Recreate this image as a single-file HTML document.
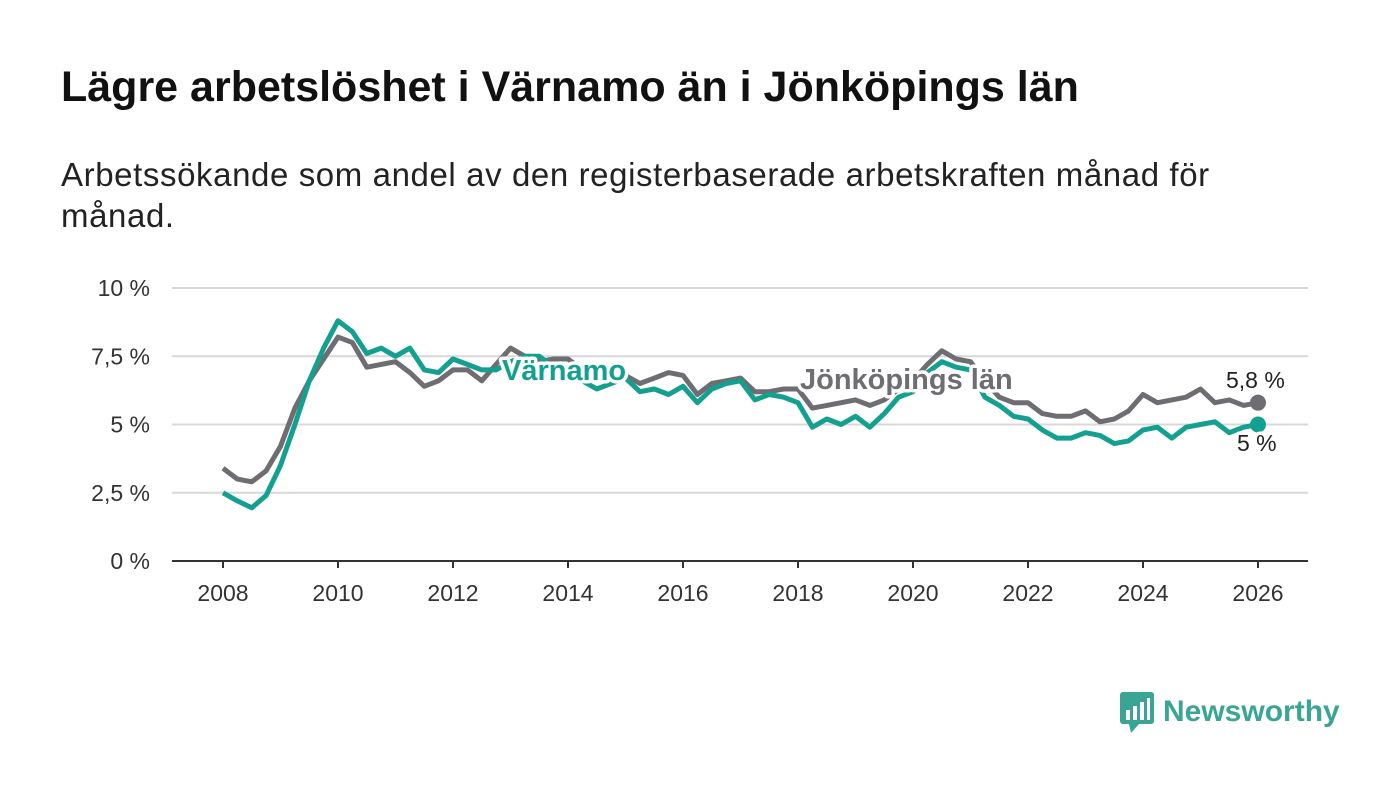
<!DOCTYPE html>
<html><head><meta charset="utf-8"><style>
body{margin:0;width:1400px;height:794px;background:#fff;font-family:"Liberation Sans","DejaVu Sans",sans-serif;overflow:hidden}
h1{position:absolute;left:61px;top:63px;margin:0;font-size:43px;font-weight:bold;color:#111;white-space:nowrap}
p.sub{position:absolute;left:61px;top:154px;margin:0;font-size:33px;line-height:41px;color:#222;width:1210px;letter-spacing:0.6px}
</style></head><body>
<h1>Lägre arbetslöshet i Värnamo än i Jönköpings län</h1>
<p class="sub">Arbetssökande som andel av den registerbaserade arbetskraften månad för månad.</p>
<svg id="c" width="1400" height="794" style="position:absolute;left:0;top:0"></svg>
<div style="position:absolute;left:1119px;top:690px;display:flex;align-items:center">
<svg width="36" height="44"><rect x="1" y="2" width="34" height="32" rx="3" fill="#3aa595"/><polygon points="10,34 20,34 12,43" fill="#3aa595"/><rect x="7" y="20" width="4" height="10" fill="#fff"/><rect x="14" y="16" width="4" height="14" fill="#fff"/><rect x="21" y="12" width="4" height="18" fill="#fff"/><rect x="28" y="8" width="3" height="22" fill="#fff"/></svg>
<span style="font-size:30px;font-weight:bold;color:#3aa595;margin-left:8px">Newsworthy</span></div>
<script>
const years=[2008,2008.25,2008.5,2008.75,2009,2009.25,2009.5,2009.75,2010,2010.25,2010.5,2010.75,2011,2011.25,2011.5,2011.75,2012,2012.25,2012.5,2012.75,2013,2013.25,2013.5,2013.75,2014,2014.25,2014.5,2014.75,2015,2015.25,2015.5,2015.75,2016,2016.25,2016.5,2016.75,2017,2017.25,2017.5,2017.75,2018,2018.25,2018.5,2018.75,2019,2019.25,2019.5,2019.75,2020,2020.25,2020.5,2020.75,2021,2021.25,2021.5,2021.75,2022,2022.25,2022.5,2022.75,2023,2023.25,2023.5,2023.75,2024,2024.25,2024.5,2024.75,2025,2025.25,2025.5,2025.75,2026];
const jonkoping=[3.4,3.0,2.9,3.3,4.2,5.6,6.6,7.4,8.2,8.0,7.1,7.2,7.3,6.9,6.4,6.6,7.0,7.0,6.6,7.2,7.8,7.5,7.3,7.4,7.4,7.0,6.8,6.8,6.8,6.5,6.7,6.9,6.8,6.1,6.5,6.6,6.7,6.2,6.2,6.3,6.3,5.6,5.7,5.8,5.9,5.7,5.9,6.3,6.6,7.2,7.7,7.4,7.3,6.6,6.0,5.8,5.8,5.4,5.3,5.3,5.5,5.1,5.2,5.5,6.1,5.8,5.9,6.0,6.3,5.8,5.9,5.7,5.8];
const varnamo=[2.5,2.2,1.95,2.4,3.5,5.0,6.6,7.8,8.8,8.4,7.6,7.8,7.5,7.8,7.0,6.9,7.4,7.2,7.0,7.0,7.3,7.5,7.5,7.1,6.8,6.6,6.3,6.5,6.7,6.2,6.3,6.1,6.4,5.8,6.3,6.5,6.6,5.9,6.1,6.0,5.8,4.9,5.2,5.0,5.3,4.9,5.4,6.0,6.2,6.9,7.3,7.1,7.0,6.0,5.7,5.3,5.2,4.8,4.5,4.5,4.7,4.6,4.3,4.4,4.8,4.9,4.5,4.9,5.0,5.1,4.7,4.9,5.0];
const yTicks=[0,2.5,5,7.5,10];
const yTickLabels=["0 %","2,5 %","5 %","7,5 %","10 %"];
const xTicks=[2008,2010,2012,2014,2016,2018,2020,2022,2024,2026];
const NS="http://www.w3.org/2000/svg",svg=document.getElementById('c');
const X=v=>223+(v-2008)*(1258-223)/18, Y=v=>561-v*27.3;
function mk(t,a,p){const e=document.createElementNS(NS,t);for(const k in a)e.setAttribute(k,a[k]);(p||svg).appendChild(e);return e;}
yTicks.forEach((t,i)=>{
 const l=mk('line',{x1:172,x2:1308,y1:Y(t),y2:Y(t),stroke:t===0?'#333':'#d8d8d8','stroke-width':2});
 
 
 const tx=mk('text',{x:150,y:Y(t)+8,'text-anchor':'end','font-size':23,fill:'#333'});
 tx.textContent=yTickLabels[i];
 
 
});
xTicks.forEach(t=>{
 mk('line',{x1:X(t),x2:X(t),y1:561,y2:568,stroke:'#333','stroke-width':2});
 const tx=mk('text',{x:X(t),y:601,'text-anchor':'middle','font-size':23,fill:'#333'});
 tx.textContent=t;
 
 
});
function line(d,col,name){
 const p=mk('path',{d:d.map((v,i)=>(i?'L':'M')+X(years[i]).toFixed(1)+','+Y(v).toFixed(1)).join(''),fill:'none',stroke:col,'stroke-width':5,'stroke-linejoin':'round'});
 
 
 const c=mk('circle',{cx:X(years[d.length-1]),cy:Y(d[d.length-1]),r:8,fill:col});
 
 
}
line(jonkoping,'#6e6d72','jonkoping-line');
line(varnamo,'#14a090','varnamo-line');
function lab(x,y,s,col,name,size,weight,halo){
 const t=mk('text',{x:x,y:y,'font-size':size,'font-weight':weight,fill:col,stroke:halo?'#fff':'none','stroke-width':halo?7:0,'paint-order':'stroke','stroke-linejoin':'round'});
 t.textContent=s;
 
 
}
lab(502,380,'Värnamo','#14a090','varnamo-label',29,'bold',true);
lab(800,389,'Jönköpings län','#6e6d72','jonkoping-label',29,'bold',true);
lab(1226,388,'5,8 %','#222','jonkoping-end-value',23,'normal',true);
lab(1237,451,'5 %','#222','varnamo-end-value',23,'normal',true);
</script>
</body></html>
